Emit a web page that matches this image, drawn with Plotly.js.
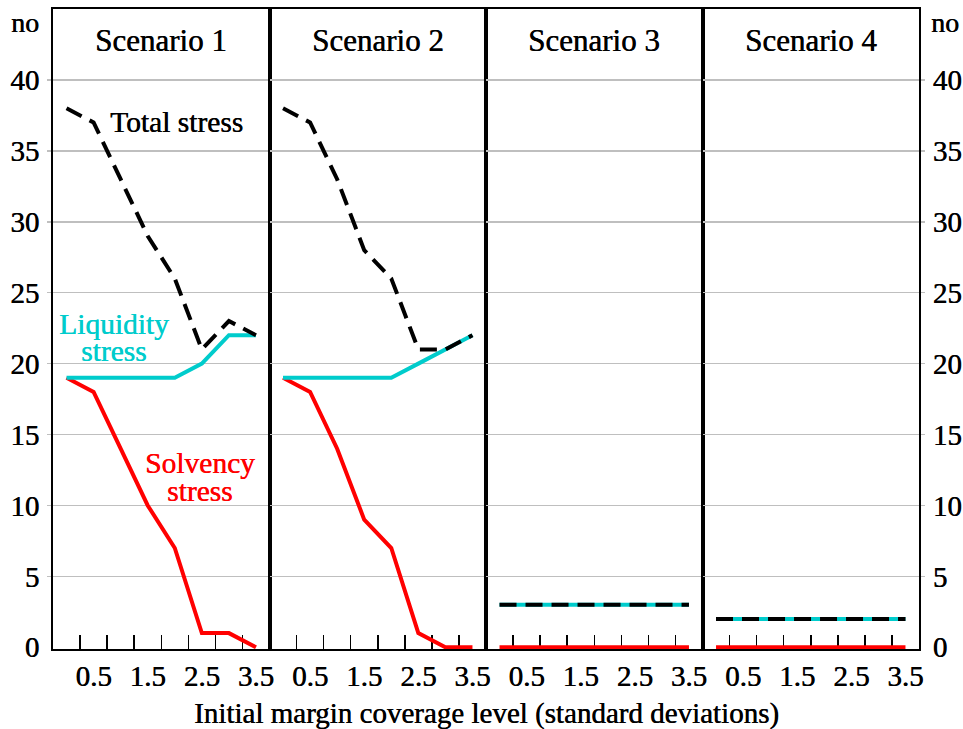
<!DOCTYPE html>
<html>
<head>
<meta charset="utf-8">
<script src="https://cdn.plot.ly/plotly-3.0.1.min.js"></script>
<style>html,body{margin:0;padding:0;background:#fff;}#chart{width:963px;height:729px;}</style>
</head>
<body>
<div id="chart"></div>
<script>
// ---- data ----
const coverage = [0, 0.5, 1, 1.5, 2, 2.5, 3, 3.5];
const tickValues = [0.5, 1.5, 2.5, 3.5];
const tickLabels = ['0.5', '1.5', '2.5', '3.5'];
const boundaryTicks = [0.25, 0.75, 1.25, 1.75, 2.25, 2.75, 3.25];
const yTicks = [0, 5, 10, 15, 20, 25, 30, 35, 40];
const yGrid = [5, 10, 15, 20, 25, 30, 35, 40];
const scenarioNames = ['Scenario 1', 'Scenario 2', 'Scenario 3', 'Scenario 4'];

const solvency1  = [19, 18, 14, 10, 7, 1, 1, 0];
const liquidity1 = [19, 19, 19, 19, 19, 20, 22, 22];
const total1     = [38, 37, 33, 29, 26, 21, 23, 22];

const solvency2  = [19, 18, 14, 9, 7, 1, 0, 0];
const liquidity2 = [19, 19, 19, 19, 19, 20, 21, 22];
const total2     = [38, 37, 33, 28, 26, 21, 21, 22];

const solvency3  = [0, 0, 0, 0, 0, 0, 0, 0];
const liquidity3 = [3, 3, 3, 3, 3, 3, 3, 3];
const total3     = [3, 3, 3, 3, 3, 3, 3, 3];

const solvency4  = [0, 0, 0, 0, 0, 0, 0, 0];
const liquidity4 = [2, 2, 2, 2, 2, 2, 2, 2];
const total4     = [2, 2, 2, 2, 2, 2, 2, 2];

const solvency = [solvency1, solvency2, solvency3, solvency4];
const liquidity = [liquidity1, liquidity2, liquidity3, liquidity4];
const total = [total1, total2, total3, total4];

// ---- styles ----
const RED = '#ff0000', CYAN = '#00cccc', BLACK = '#000000';
const FONT = '"Liberation Serif", "Times New Roman", Times, serif';
function f(size, color) {
  return {family: FONT, size: size, color: color, shadow: '0.45px 0 0 ' + color};
}

const traces = [];
for (let i = 0; i < 4; i++) {
  const xa = i === 0 ? 'x' : 'x' + (i + 1);
  const ya = i === 0 ? 'y' : 'y' + (i + 1);
  traces.push({x: coverage, y: solvency[i], xaxis: xa, yaxis: ya, type: 'scatter', mode: 'lines',
    line: {color: RED, width: 4}, hoverinfo: 'skip', showlegend: false});
  traces.push({x: coverage, y: liquidity[i], xaxis: xa, yaxis: ya, type: 'scatter', mode: 'lines',
    line: {color: CYAN, width: 4}, hoverinfo: 'skip', showlegend: false});
  traces.push({x: coverage, y: total[i], xaxis: xa, yaxis: ya, type: 'scatter', mode: 'lines',
    line: {color: BLACK, width: 4, dash: '17px,9px'}, hoverinfo: 'skip', showlegend: false});
}

const layout = {
  width: 963, height: 729,
  margin: {l: 53, r: 44, t: 9, b: 80},
  paper_bgcolor: '#ffffff', plot_bgcolor: '#ffffff',
  font: f(28, '#000'),
  showlegend: false,
  annotations: [],
};

for (let i = 0; i < 4; i++) {
  const xk = i === 0 ? 'xaxis' : 'xaxis' + (i + 1);
  const yk = i === 0 ? 'yaxis' : 'yaxis' + (i + 1);
  const xa = i === 0 ? 'x' : 'x' + (i + 1);
  const ya = i === 0 ? 'y' : 'y' + (i + 1);
  const labelled = (i === 0 || i === 3);
  layout[xk] = {
    domain: [i * 0.25, (i + 1) * 0.25], anchor: ya,
    range: [-0.25, 3.75], tickmode: 'array', tickvals: tickValues, ticktext: tickLabels,
    ticks: '', ticklabelstandoff: 0,
    tickfont: f(29, '#000'),
    minor: {tickmode: 'array', tickvals: boundaryTicks, ticks: 'inside', ticklen: 14, tickwidth: 1.5, tickcolor: '#000', showgrid: false},
    showgrid: false, zeroline: false, showline: true, mirror: true, linecolor: '#000', linewidth: 2,
    layer: 'below traces', fixedrange: true
  };
  layout[yk] = {
    domain: [0, 1], anchor: xa,
    range: [-0.12, 45], tickmode: 'array', tickvals: yTicks,
    showticklabels: labelled, side: i === 3 ? 'right' : 'left',
    ticks: '', ticklabelstandoff: 6,
    tickfont: f(29, '#000'),
    showgrid: false,
    minor: {tickmode: 'array', tickvals: yGrid, showgrid: true, gridcolor: '#bfbfbf', gridwidth: 1.5,
      ticks: labelled ? 'outside' : '', ticklen: 4, tickwidth: 1.5, tickcolor: '#bfbfbf'},
    zeroline: false, showline: true, mirror: true, linecolor: '#000', linewidth: 2,
    layer: 'below traces', fixedrange: true
  };
  layout.annotations.push({text: scenarioNames[i], xref: xa, yref: ya, x: 1.75, y: 42.8,
    xanchor: 'center', yanchor: 'middle', showarrow: false, font: f(31, '#000')});
}

// series labels (scenario 1 panel)
layout.annotations.push(
  {text: 'Total stress', xref: 'x', yref: 'y', x: 2.03, y: 37.06, xanchor: 'center', yanchor: 'middle', showarrow: false, font: f(29.5, BLACK)},
  {text: 'Liquidity', xref: 'x', yref: 'y', x: 0.88, y: 22.8, xanchor: 'center', yanchor: 'middle', showarrow: false, font: f(29.5, CYAN)},
  {text: 'stress', xref: 'x', yref: 'y', x: 0.88, y: 20.9, xanchor: 'center', yanchor: 'middle', showarrow: false, font: f(29.5, CYAN)},
  {text: 'Solvency', xref: 'x', yref: 'y', x: 2.47, y: 13.0, xanchor: 'center', yanchor: 'middle', showarrow: false, font: f(29.5, RED)},
  {text: 'stress', xref: 'x', yref: 'y', x: 2.47, y: 11.0, xanchor: 'center', yanchor: 'middle', showarrow: false, font: f(29.5, RED)},
  {text: 'no', xref: 'paper', yref: 'paper', x: -0.032, y: 0.979, xanchor: 'center', yanchor: 'middle', showarrow: false, font: f(28, '#000')},
  {text: 'no', xref: 'paper', yref: 'paper', x: 1.03, y: 0.979, xanchor: 'center', yanchor: 'middle', showarrow: false, font: f(28, '#000')},
  {text: 'Initial margin coverage level (standard deviations)', xref: 'paper', yref: 'paper', x: 0.5, y: -0.101,
    xanchor: 'center', yanchor: 'middle', showarrow: false, font: f(29, '#000')}
);

Plotly.newPlot('chart', traces, layout, {staticPlot: true, displayModeBar: false});
</script>
</body>
</html>
